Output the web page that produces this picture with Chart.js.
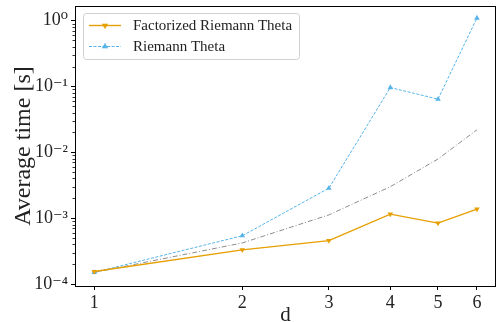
<!DOCTYPE html>
<html><head><meta charset="utf-8">
<script src="https://cdn.jsdelivr.net/npm/chart.js@4.4.1/dist/chart.umd.min.js"></script>
<style>html,body{margin:0;padding:0;background:#fff;overflow:hidden;width:496px;height:322px}#wrap{width:500px;height:322px}</style>
</head><body><div id="wrap"><canvas id="c" width="500" height="322"></canvas></div>
<script>
const dims = [1, 2, 3, 4, 5, 6];
const factorized = [1.55e-4, 3.3e-4, 4.55e-4, 1.15e-3, 8.4e-4, 1.37e-3];
const riemann = [1.5e-4, 5.4e-4, 2.85e-3, 9.6e-2, 6.4e-2, 1.09];
const reference = [1.5e-4, 4.2e-4, 1.12e-3, 3.0e-3, 7.9e-3, 2.19e-2];
const yMajorTicks = [1e-4, 1e-3, 1e-2, 1e-1, 1];
const yTickLabels = ['10⁻⁴', '10⁻³', '10⁻²', '10⁻¹', '10⁰'];
const legendLabels = ['Factorized Riemann Theta', 'Riemann Theta'];

const FONT = "'Liberation Serif', 'DejaVu Serif', serif";
const ORANGE = '#E69F00', BLUE = '#56B4E9', GRAY = '#8c8c8c';

const pts = arr => dims.map((d, i) => ({x: d, y: arr[i]}));

const framePlugin = {
  id: 'frame',
  afterDraw(chart) {
    const ctx = chart.ctx, a = chart.chartArea, ys = chart.scales.y;
    ctx.save();
    ctx.strokeStyle = '#000'; ctx.lineWidth = 0.8;
    for (let e = -5; e <= 1; e++) {
      for (let m = 2; m <= 9; m++) {
        const v = m * Math.pow(10, e);
        if (v < ys.min || v > ys.max) continue;
        const py = Math.round(ys.getPixelForValue(v)) + 0.5;
        ctx.beginPath(); ctx.moveTo(a.left, py); ctx.lineTo(a.left - 2.5, py); ctx.stroke();
      }
    }
    ctx.strokeStyle = '#000'; ctx.lineWidth = 1;
    ctx.strokeRect(Math.round(a.left) + 0.5, Math.round(a.top) + 0.5, Math.round(a.right - a.left) - 1, Math.round(a.bottom - a.top));
    const lx = 83, ly = 13, lw = 216, lh = 46;
    ctx.fillStyle = 'rgba(255,255,255,0.85)';
    ctx.strokeStyle = '#d0d0d0'; ctx.lineWidth = 1;
    ctx.beginPath();
    ctx.roundRect(lx + 0.5, ly + 0.5, lw, lh, 3);
    ctx.fill(); ctx.stroke();
    const ds = chart.data.datasets;
    ctx.font = '15px ' + FONT; ctx.textBaseline = 'middle';
    legendLabels.forEach((lab, i) => {
      const d = ds[i];
      const y = ly + 12.5 + i * 21;
      ctx.save();
      ctx.strokeStyle = d.borderColor; ctx.lineWidth = d.borderWidth;
      ctx.setLineDash(d.borderDash || []);
      ctx.beginPath(); ctx.moveTo(89, y); ctx.lineTo(121, y); ctx.stroke();
      ctx.setLineDash([]);
      ctx.fillStyle = d.backgroundColor; ctx.strokeStyle = d.borderColor; ctx.lineWidth = 0.5;
      Chart.helpers.drawPoint(ctx, {pointStyle: 'triangle', radius: d.pointRadius, rotation: d.pointRotation || 0, borderWidth: 0.5}, 105, y);
      ctx.restore();
      ctx.fillStyle = '#222';
      ctx.fillText(lab, 133, y + 1);
    });
    ctx.restore();
  }
};

new Chart(document.getElementById('c'), {
  type: 'line',
  data: {
    datasets: [
      {label: legendLabels[0], data: pts(factorized), borderColor: ORANGE, backgroundColor: ORANGE,
       borderWidth: 1.4, pointStyle: 'triangle', pointRotation: 180, pointRadius: 3.2, pointBorderWidth: 0, tension: 0},
      {label: legendLabels[1], data: pts(riemann), borderColor: BLUE, backgroundColor: BLUE,
       borderWidth: 1, borderDash: [3, 1.5], pointStyle: 'triangle', pointRadius: 3.2, pointBorderWidth: 0, tension: 0},
      {label: 'reference', data: pts(reference), borderColor: GRAY, backgroundColor: GRAY,
       borderWidth: 1, borderDash: [5, 2, 1, 2], pointRadius: 0, tension: 0}
    ]
  },
  options: {
    responsive: false, animation: false, devicePixelRatio: 1,
    layout: {padding: {top: 6, right: 1, left: 0, bottom: 0}},
    plugins: {legend: {display: false}, tooltip: {enabled: false}},
    scales: {
      x: {
        type: 'logarithmic', min: 0.914, max: 6.56,
        afterBuildTicks: s => { s.ticks = dims.map(v => ({value: v})); },
        afterFit: s => { s.height = 36; s.paddingLeft = 0; s.paddingRight = 0; },
        ticks: {font: {family: FONT, size: 18}, color: '#222', padding: 2, maxRotation: 0, autoSkip: false,
                callback: v => String(v)},
        grid: {drawOnChartArea: false, tickLength: 4, color: '#000'},
        border: {color: '#000'},
        title: {display: true, text: 'd', font: {family: FONT, size: 21}, color: '#222', padding: {top: 0, bottom: -6}}
      },
      y: {
        type: 'logarithmic', min: 9.33e-5, max: 1.66,
        afterBuildTicks: s => { s.ticks = yMajorTicks.map(v => ({value: v})); },
        afterFit: s => { s.width = 75; s.paddingTop = 0; s.paddingBottom = 0; },
        ticks: {font: {family: FONT, size: 18}, color: '#222', padding: 3, autoSkip: false,
                callback: (v) => { const i = yMajorTicks.findIndex(t => Math.abs(Math.log10(t) - Math.log10(v)) < 1e-6); return i >= 0 ? yTickLabels[i] : ''; }},
        grid: {drawOnChartArea: false, tickLength: 4, color: '#000'},
        border: {color: '#000'},
        title: {display: true, text: 'Average time [s]', font: {family: FONT, size: 24}, color: '#222', padding: {top: 9, bottom: 2}}
      }
    }
  },
  plugins: [framePlugin]
});
</script></body></html>
